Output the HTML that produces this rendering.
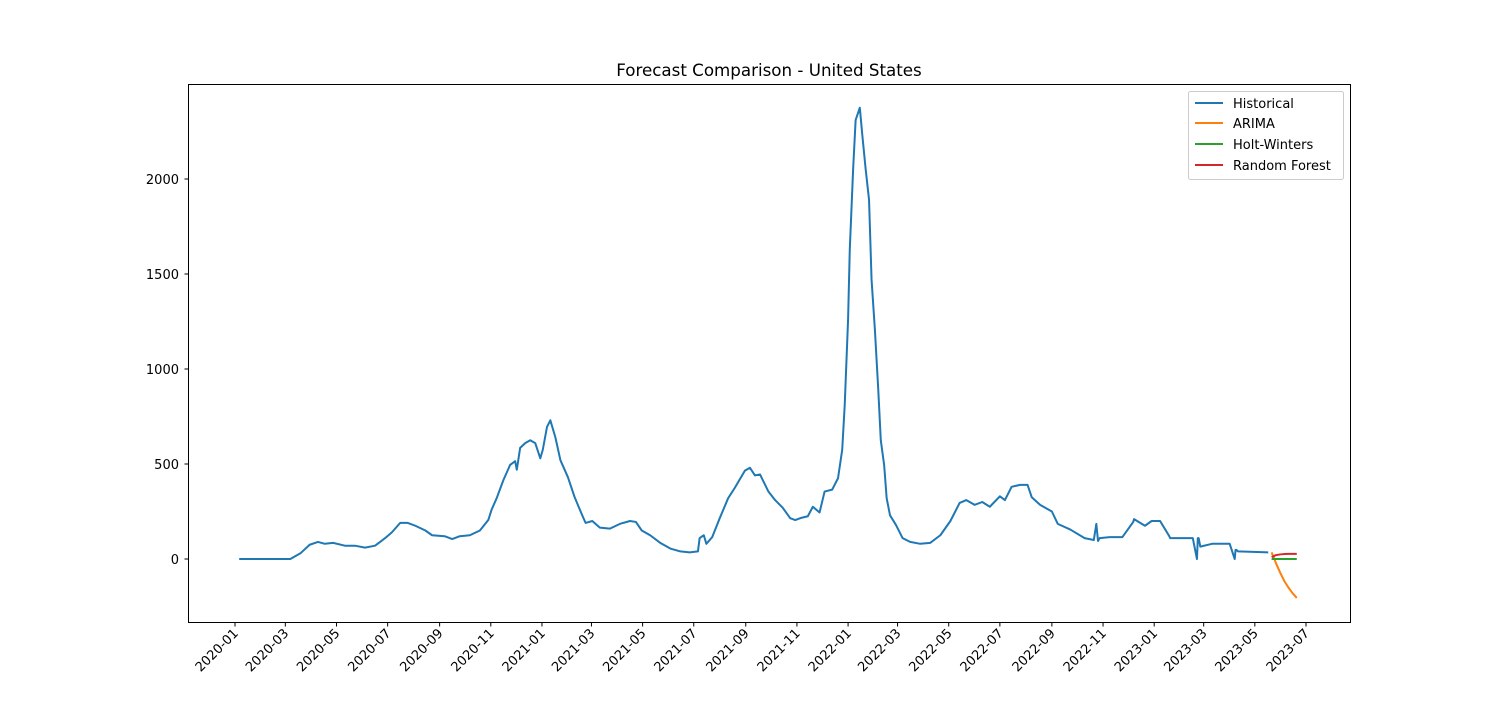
<!DOCTYPE html>
<html><head><meta charset="utf-8"><style>
body{margin:0;background:#fff}
svg text{font-family:"DejaVu Sans","Liberation Sans",sans-serif;fill:#000}
</style></head><body>
<svg id="chart" width="1500" height="700" xmlns="http://www.w3.org/2000/svg">
<rect width="1500" height="700" fill="#fff"/>
<text x="769" y="76" font-size="16.7" text-anchor="middle">Forecast Comparison - United States</text>
<g id="plot"></g>
<rect x="188.5" y="84.5" width="1162" height="538" fill="none" stroke="#000" stroke-width="1"/>
<g>
<rect x="1188.5" y="91.5" width="155" height="88" rx="2" fill="#fff" fill-opacity="0.8" stroke="#ccc"/>
<line x1="1195" y1="103" x2="1223" y2="103" stroke="#1f77b4" stroke-width="2"/><text x="1233" y="108" font-size="13">Historical</text>
<line x1="1195" y1="123" x2="1223" y2="123" stroke="#ff7f0e" stroke-width="2"/><text x="1233" y="128" font-size="13">ARIMA</text>
<line x1="1195" y1="144" x2="1223" y2="144" stroke="#2ca02c" stroke-width="2"/><text x="1233" y="149" font-size="13">Holt-Winters</text>
<line x1="1195" y1="165" x2="1223" y2="165" stroke="#d62728" stroke-width="2"/><text x="1233" y="170" font-size="13">Random Forest</text>
</g>
</svg>
<script>
// days since 2020-01-01
const histDays=[5,66,78,89,99,107,117,131,143,155,167,179,187,197,206,215,227,235,250,259,268,280,292,302,306,312,320,328,334,336,340,346,352,358,364,367,372,376,382,388,397,405,414,418,426,435,447,459,471,478,485,495,507,519,531,542,552,554,559,562,569,578,588,596,608,614,620,626,636,644,653,662,668,674,683,689,697,703,712,719,724,727,731,733,737,740,745,748,752,756,759,763,767,770,774,777,781,788,796,805,817,829,841,853,864,872,882,891,900,912,918,926,936,945,950,960,974,981,996,1013,1024,1027,1029,1031,1043,1058,1071,1072,1085,1093,1103,1114,1115,1142,1147,1148,1149,1151,1165,1186,1192,1193,1194,1196,1232,1236];
const histVals=[0,0,30,75,90,80,85,70,70,60,70,110,140,190,190,175,150,125,120,105,120,125,150,205,260,320,415,495,515,470,585,610,625,610,530,575,695,730,640,520,430,325,230,190,200,165,160,185,200,195,150,125,85,55,40,35,40,110,125,80,115,215,320,375,465,480,440,445,355,310,270,215,205,215,225,275,245,355,365,425,575,810,1260,1625,2050,2310,2375,2230,2050,1890,1470,1205,890,625,495,320,230,180,110,90,80,85,125,200,295,310,285,300,275,330,310,380,390,390,325,285,250,185,155,110,100,185,95,110,115,115,195,210,175,200,200,120,110,110,0,110,110,65,80,80,0,48,48,40,35];
const fcDays=[1236,1241,1246,1251,1256,1261,1266];
const arimaVals=[35,-20,-70,-115,-150,-180,-205];
const hwVals=[0,0,0,0,0,0,0];
const rfVals=[10,20,24,26,27,27,27];
const yTicks=[0,500,1000,1500,2000];
const xTickLabels=["2020-01","2020-03","2020-05","2020-07","2020-09","2020-11","2021-01","2021-03","2021-05","2021-07","2021-09","2021-11","2022-01","2022-03","2022-05","2022-07","2022-09","2022-11","2023-01","2023-03","2023-05","2023-07"];

const NS="http://www.w3.org/2000/svg";
const g=document.getElementById('plot');
const svg=document.getElementById('chart');
const xS=d=>235+d*1071/1277;
const yS=v=>559-v*0.19;
const day0=Date.UTC(2020,0,1);
function mk(t,a){const e=document.createElementNS(NS,t);for(const k in a)e.setAttribute(k,a[k]);return e;}
yTicks.forEach(v=>{
  const y=yS(v);
  const l=mk('line',{x1:184.5,x2:188.5,y1:y,y2:y,stroke:'#000'});
  
  
  svg.appendChild(l);
  const t=mk('text',{x:179,y:y+5,'font-size':13,'text-anchor':'end'});
  
  
  t.textContent=v;svg.appendChild(t);
});
xTickLabels.forEach(s=>{
  const [yy,mm]=s.split('-').map(Number);
  const d=(Date.UTC(yy,mm-1,1)-day0)/86400000;
  const x=xS(d);
  const l=mk('line',{x1:x,x2:x,y1:622.5,y2:626.5,stroke:'#000'});
  
  
  svg.appendChild(l);
  const t=mk('text',{x:x+4,y:634,'font-size':13,'text-anchor':'end',transform:`rotate(-45 ${x+4} 634)`});
  
  
  t.textContent=s;svg.appendChild(t);
});
function line(days,vals,color,name){
  const n=Math.min(days.length,vals.length);
  const pts=[];
  for(let i=0;i<n;i++)pts.push(xS(days[i])+','+yS(vals[i]));
  const p=mk('polyline',{points:pts.join(' '),fill:'none',stroke:color,'stroke-width':2,'stroke-linejoin':'round'});
  
  
  g.appendChild(p);
}
line(histDays,histVals,'#1f77b4','historical-line');
line(fcDays,arimaVals,'#ff7f0e','arima-line');
line(fcDays,hwVals,'#2ca02c','holt-winters-line');
line(fcDays,rfVals,'#d62728','random-forest-line');
</script>
</body></html>
